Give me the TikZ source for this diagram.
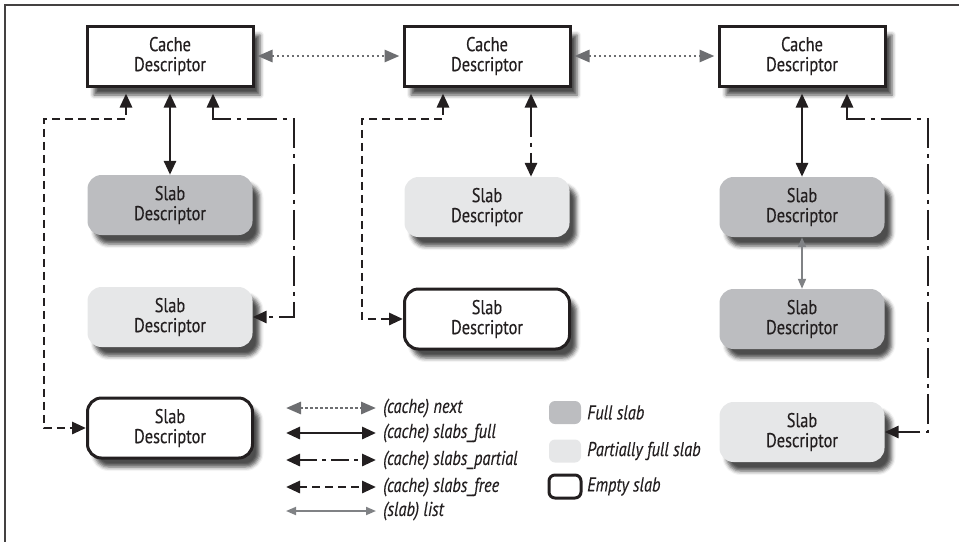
\documentclass[tikz,border=0pt]{standalone}
\usepackage{fontspec}
\setmainfont{PT Sans}[FakeStretch=0.82, FakeBold=0.3]
\usetikzlibrary{arrows.meta,shadows.blur}
\definecolor{txt}{HTML}{231F20}
\definecolor{fullc}{HTML}{BCBDC0}
\definecolor{partc}{HTML}{E6E7E8}
\definecolor{nextc}{HTML}{6D6E71}
\definecolor{listc}{HTML}{808285}
\tikzset{
  shad/.style={blur shadow={shadow xshift=7pt, shadow yshift=-9pt, shadow blur radius=4pt, shadow opacity=70}},
  cachebox/.style={draw=txt, line width=3pt, fill=white, minimum width=166pt, minimum height=60pt, inner sep=0pt, align=center, shad},
  slabbase/.style={rounded corners=14pt, minimum width=165pt, minimum height=60pt, align=center, inner sep=0pt, shad},
  fullslab/.style={slabbase, fill=fullc},
  partslab/.style={slabbase, fill=partc},
  emptyslab/.style={slabbase, fill=white, draw=txt, line width=3pt},
  swatch/.style={rounded corners=6pt, minimum width=32pt, minimum height=23pt, inner sep=0pt},
  fullln/.style={draw=txt, line width=2.9pt, {Triangle[length=14pt,width=12pt]}-{Triangle[length=14pt,width=12pt]}},
  freeln/.style={fullln, dash pattern=on 8pt off 5pt},
  partln/.style={fullln, dash pattern=on 30pt off 6pt on 4pt off 6pt},
  nextln/.style={draw=nextc, line width=2.9pt, dash pattern=on 2.5pt off 2.5pt, {Triangle[length=15pt,width=12pt]}-{Triangle[length=15pt,width=12pt]}},
  listln/.style={draw=listc, line width=1.8pt, {Triangle[length=10pt,width=8pt]}-{Triangle[length=10pt,width=8pt]}},
  lbl/.style={anchor=west, inner sep=0pt, font=\fontsize{20}{21}\selectfont\itshape}
}
\begin{document}
\begin{tikzpicture}[x=1pt, y=-1pt, font=\fontsize{20}{20}\selectfont, every node/.append style={text=txt}]
\useasboundingbox (0,0) rectangle (959,542);
\draw[line width=1.6pt, draw=txt!85] (959,5) -- (5,5) -- (5,542);

% cache descriptors
\node[cachebox] (c1) at (170,56) {Cache\\Descriptor};
\node[cachebox] (c2) at (487,56) {Cache\\Descriptor};
\node[cachebox] (c3) at (802,56) {Cache\\Descriptor};

% slabs
\node[fullslab] (s1) at (170,205) {Slab\\Descriptor};
\node[partslab] (s2) at (170,317) {Slab\\Descriptor};
\node[emptyslab] (s3) at (170,428) {Slab\\Descriptor};
\node[partslab] (m1) at (487,207) {Slab\\Descriptor};
\node[emptyslab] (m2) at (487,319) {Slab\\Descriptor};
\node[fullslab] (r1) at (802,207) {Slab\\Descriptor};
\node[fullslab] (r2) at (802,319) {Slab\\Descriptor};
\node[partslab] (r3) at (802,432) {Slab\\Descriptor};

% bend points
\coordinate (lf) at (44,119);
\coordinate (lp) at (294,119);
\coordinate (mf) at (362,119);
\coordinate (rp) at (928,119);

% connectors
\draw[nextln] ([xshift=3pt]c1.east) -- ([xshift=-3pt]c2.west);
\draw[nextln] ([xshift=3pt]c2.east) -- ([xshift=-3pt]c3.west);
\draw[fullln] ([yshift=-6pt]c1.south) -- (s1.north);
\draw[freeln] ([xshift=-44pt,yshift=-6pt]c1.south) |- (lf) |- (s3.west);
\draw[partln] ([xshift=43pt,yshift=-6pt]c1.south) |- (lp) |- (s2.east);
\draw[freeln] ([xshift=-44pt,yshift=-6pt]c2.south) |- (mf) |- (m2.west);
\draw[partln] ([xshift=44pt,yshift=-6pt]c2.south) -- ([xshift=44pt]m1.north);
\draw[fullln] ([yshift=-6pt]c3.south) -- (r1.north);
\draw[partln] ([xshift=45pt,yshift=-6pt]c3.south) |- (rp) |- (r3.east);
\draw[listln] (r1.south) -- (r2.north);

% legend arrows
\coordinate (a1) at (286,408); \coordinate (b1) at (376,408);
\coordinate (a2) at (286,433); \coordinate (b2) at (376,433);
\coordinate (a3) at (286,460); \coordinate (b3) at (376,460);
\coordinate (a4) at (286,487); \coordinate (b4) at (376,487);
\coordinate (a5) at (286,511); \coordinate (b5) at (376,511);
\draw[nextln] (a1) -- (b1);
\draw[fullln] (a2) -- (b2);
\draw[partln, dash pattern=on 18pt off 5pt on 4pt off 5pt] (a3) -- (b3);
\draw[freeln] (a4) -- (b4);
\draw[listln] (a5) -- (b5);
\node[lbl] (t1) at (383,408) {(cache) next};
\node[lbl] (t2) at (383,433) {(cache) slabs\_full};
\node[lbl] (t3) at (383,460) {(cache) slabs\_partial};
\node[lbl] (t4) at (383,487) {(cache) slabs\_free};
\node[lbl] (t5) at (383,511) {(slab) list};

% legend swatches
\node[swatch, fill=fullc] (w1) at (565,412.5) {};
\node[swatch, fill=partc] (w2) at (565,451) {};
\node[swatch, draw=txt, line width=3pt, fill=white] (w3) at (565,486.5) {};
\node[lbl] (u1) at (587,412.5) {Full slab};
\node[lbl] (u2) at (587,451) {Partially full slab};
\node[lbl] (u3) at (587,486.5) {Empty slab};
\end{tikzpicture}
\end{document}
